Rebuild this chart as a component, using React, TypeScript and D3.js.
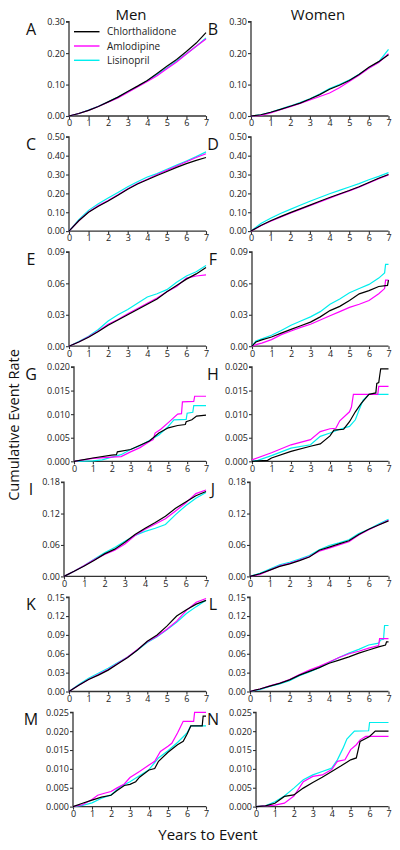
import React, { useEffect, useRef } from "react";
import * as d3 from "d3";

type Pt = [number, number];

// ---- data ----
const years = [0, 0.5, 1, 1.5, 2, 2.5, 3, 3.5, 4, 4.5, 5, 5.5, 6, 6.5, 7];
const seriesNames = ["Chlorthalidone", "Amlodipine", "Lisinopril"];
const seriesColors = ["#000000", "#ff00ff", "#00eeee"];
const panelLetters = ["A", "B", "C", "D", "E", "F", "G", "H", "I", "J", "K", "L", "M", "N"];
const columnTitles = ["Men", "Women"];
const rowYMax = [0.3, 0.5, 0.09, 0.02, 0.18, 0.15, 0.025];
const rowYStep = [0.1, 0.1, 0.03, 0.005, 0.06, 0.03, 0.005];
const rowYFormat = [".2f", ".2f", ".2f", ".3f", ".2f", ".2f", ".3f"];
const xTickValues = [0, 1, 2, 3, 4, 5, 6, 7];

// grid series (values at `years`)
const A_chl = [0, 0.008, 0.018, 0.03, 0.045, 0.06, 0.078, 0.095, 0.113, 0.135, 0.158, 0.18, 0.205, 0.232, 0.265];
const A_aml = [0, 0.008, 0.018, 0.03, 0.044, 0.057, 0.075, 0.092, 0.11, 0.128, 0.15, 0.172, 0.197, 0.222, 0.245];
const A_lis = [0, 0.008, 0.019, 0.031, 0.045, 0.06, 0.077, 0.094, 0.112, 0.132, 0.153, 0.175, 0.198, 0.222, 0.248];
const B_chl = [0, 0.004, 0.012, 0.021, 0.031, 0.041, 0.054, 0.068, 0.085, 0.098, 0.113, 0.132, 0.155, 0.173, 0.195];
const B_aml = [0, 0.002, 0.01, 0.02, 0.03, 0.04, 0.051, 0.062, 0.073, 0.09, 0.11, 0.13, 0.152, 0.17, 0.198];
const B_lis = [0, 0.004, 0.012, 0.022, 0.032, 0.043, 0.055, 0.07, 0.087, 0.1, 0.114, 0.133, 0.153, 0.172, 0.212];
const C_chl = [0, 0.055, 0.1, 0.132, 0.16, 0.19, 0.222, 0.25, 0.272, 0.295, 0.316, 0.338, 0.358, 0.375, 0.39];
const C_aml = [0, 0.055, 0.102, 0.135, 0.162, 0.193, 0.225, 0.252, 0.275, 0.3, 0.322, 0.345, 0.368, 0.39, 0.41];
const C_lis = [0, 0.06, 0.11, 0.145, 0.175, 0.205, 0.235, 0.262, 0.287, 0.305, 0.328, 0.35, 0.372, 0.395, 0.42];
const D_chl = [0, 0.03, 0.055, 0.077, 0.098, 0.118, 0.138, 0.158, 0.178, 0.197, 0.215, 0.235, 0.258, 0.28, 0.3];
const D_aml = [0, 0.028, 0.052, 0.074, 0.095, 0.115, 0.135, 0.155, 0.175, 0.195, 0.213, 0.233, 0.255, 0.278, 0.298];
const D_lis = [0, 0.04, 0.068, 0.093, 0.115, 0.137, 0.158, 0.178, 0.198, 0.216, 0.234, 0.252, 0.272, 0.29, 0.31];
const E_chl = [0, 0.004, 0.0085, 0.014, 0.02, 0.025, 0.03, 0.035, 0.04, 0.045, 0.052, 0.058, 0.064, 0.069, 0.075];
const E_aml = [0, 0.004, 0.009, 0.0145, 0.021, 0.0255, 0.031, 0.036, 0.041, 0.046, 0.052, 0.057, 0.065, 0.067, 0.068];
const E_lis = [0, 0.0045, 0.0095, 0.016, 0.024, 0.03, 0.035, 0.041, 0.047, 0.05, 0.054, 0.061, 0.067, 0.071, 0.077];
const I_chl = [0, 0.01, 0.02, 0.031, 0.043, 0.052, 0.065, 0.08, 0.092, 0.103, 0.115, 0.13, 0.142, 0.154, 0.162];
const I_aml = [0, 0.01, 0.021, 0.032, 0.042, 0.05, 0.062, 0.078, 0.09, 0.1, 0.11, 0.125, 0.14, 0.158, 0.165];
const I_lis = [0, 0.01, 0.021, 0.033, 0.045, 0.055, 0.067, 0.078, 0.086, 0.092, 0.099, 0.118, 0.135, 0.149, 0.16];
const J_chl = [0, 0.005, 0.012, 0.019, 0.024, 0.03, 0.037, 0.05, 0.056, 0.062, 0.068, 0.08, 0.09, 0.098, 0.106];
const J_aml = [0, 0.004, 0.012, 0.02, 0.025, 0.031, 0.038, 0.048, 0.054, 0.06, 0.066, 0.079, 0.089, 0.098, 0.107];
const J_lis = [0, 0.006, 0.014, 0.022, 0.027, 0.033, 0.04, 0.051, 0.059, 0.064, 0.07, 0.082, 0.09, 0.1, 0.109];
const K_chl = [0, 0.01, 0.019, 0.026, 0.034, 0.044, 0.054, 0.066, 0.08, 0.09, 0.104, 0.12, 0.13, 0.139, 0.145];
const K_aml = [0, 0.01, 0.019, 0.027, 0.035, 0.045, 0.055, 0.067, 0.079, 0.088, 0.099, 0.112, 0.129, 0.142, 0.148];
const K_lis = [0, 0.011, 0.021, 0.029, 0.037, 0.046, 0.055, 0.066, 0.078, 0.087, 0.098, 0.11, 0.124, 0.135, 0.145];

// (time, value) series
const F_chl: Pt[] = [[0,0],[0.2,0.004],[0.5,0.006],[1,0.0088],[1.5,0.0125],[2,0.016],[2.5,0.0195],[3,0.023],[3.5,0.028],[4,0.034],[4.5,0.038],[5,0.0436],[5.5,0.05],[6,0.053],[6.5,0.057],[6.95,0.058],[7,0.063]];
const F_aml: Pt[] = [[0,0],[0.3,0.002],[0.5,0.003],[1,0.0063],[1.5,0.011],[2,0.0145],[2.5,0.018],[3,0.021],[3.5,0.025],[4,0.029],[4.5,0.033],[5,0.037],[5.5,0.04],[6,0.0436],[6.5,0.05],[6.8,0.055],[6.85,0.063],[7,0.063]];
const F_lis: Pt[] = [[0,0],[0.2,0.005],[0.5,0.007],[1,0.0104],[1.5,0.015],[2,0.02],[2.5,0.024],[3,0.028],[3.5,0.033],[4,0.04],[4.5,0.045],[5,0.051],[5.5,0.055],[6,0.059],[6.5,0.065],[6.8,0.07],[6.85,0.078],[7,0.078]];
const G_chl: Pt[] = [[0,0],[1,0.0007],[2,0.0013],[2.25,0.0014],[2.3,0.002],[3,0.0025],[4,0.0043],[4.5,0.006],[5,0.0071],[5.5,0.0076],[5.9,0.0078],[5.95,0.0084],[6.25,0.0088],[6.5,0.0096],[7,0.0098]];
const G_aml: Pt[] = [[0,0],[1,0.0006],[2,0.0009],[2.5,0.001],[3,0.002],[3.5,0.0029],[4,0.0042],[4.2,0.0046],[4.3,0.006],[4.6,0.0068],[5,0.0082],[5.5,0.01],[5.7,0.0101],[5.75,0.0126],[6.35,0.0127],[6.4,0.0138],[7,0.0138]];
const G_lis: Pt[] = [[0,0],[1,0.0001],[1.5,0.0003],[2,0.0009],[2.5,0.0014],[3,0.0025],[3.5,0.0033],[4,0.0044],[4.5,0.0056],[5,0.0074],[5.3,0.0088],[5.95,0.0089],[6,0.0102],[6.3,0.0104],[6.35,0.0118],[7,0.0118]];
const H_chl: Pt[] = [[0,0],[0.8,0.0002],[1,0.0007],[2,0.0021],[3,0.0032],[3.5,0.0037],[4,0.0054],[4.2,0.0066],[4.7,0.0068],[5,0.0084],[5.3,0.0105],[5.6,0.0123],[6,0.0142],[6.35,0.0145],[6.4,0.0165],[6.5,0.0167],[6.55,0.0182],[6.6,0.0196],[7,0.0196]];
const H_aml: Pt[] = [[0,0.0003],[1,0.0018],[2,0.0035],[3,0.0046],[3.5,0.0063],[4,0.0069],[4.3,0.007],[4.5,0.0086],[5,0.0105],[5.1,0.0115],[5.2,0.0142],[6.45,0.0142],[6.5,0.0159],[7,0.0159]];
const H_lis: Pt[] = [[0,0],[0.3,0.0002],[1,0.0012],[2,0.0028],[3,0.0035],[3.5,0.0053],[4,0.006],[4.5,0.0068],[5,0.0074],[5.3,0.0088],[5.5,0.011],[5.7,0.013],[6,0.0142],[7,0.0142]];
const L_chl: Pt[] = [[0,0],[0.5,0.004],[1,0.0085],[1.5,0.013],[2,0.0185],[2.5,0.026],[3,0.032],[3.5,0.038],[4,0.045],[4.5,0.05],[5,0.055],[5.5,0.061],[6,0.066],[6.5,0.071],[6.85,0.074],[6.9,0.079],[7,0.079]];
const L_aml: Pt[] = [[0,0],[0.5,0.004],[1,0.009],[1.5,0.0135],[2,0.019],[2.5,0.027],[3,0.034],[3.5,0.04],[4,0.047],[4.5,0.054],[5,0.06],[5.5,0.064],[6,0.069],[6.5,0.073],[6.55,0.084],[7,0.084]];
const L_lis: Pt[] = [[0,0],[0.5,0.003],[1,0.008],[1.5,0.012],[2,0.017],[2.5,0.025],[3,0.031],[3.5,0.038],[4,0.046],[4.5,0.054],[5,0.061],[5.5,0.067],[6,0.074],[6.5,0.077],[6.6,0.082],[6.75,0.083],[6.8,0.105],[7,0.105]];
const M_chl: Pt[] = [[0,0],[0.5,0.0009],[1,0.0017],[1.5,0.0025],[2,0.003],[2.3,0.0042],[2.7,0.0056],[3,0.0059],[3.3,0.0066],[3.5,0.0078],[4,0.0097],[4.3,0.0101],[4.5,0.012],[5,0.0144],[5.5,0.0164],[5.8,0.0173],[6,0.0192],[6.2,0.0214],[6.8,0.0214],[6.85,0.024],[7,0.024]];
const M_aml: Pt[] = [[0,0],[0.5,0.0005],[1,0.0019],[1.3,0.003],[1.7,0.0036],[2,0.004],[2.3,0.0049],[2.7,0.006],[3,0.0077],[3.5,0.0093],[4,0.011],[4.3,0.012],[4.6,0.0146],[5,0.016],[5.2,0.0168],[5.5,0.0195],[5.8,0.0226],[6.35,0.0226],[6.4,0.025],[7,0.025]];
const M_lis: Pt[] = [[0,0],[0.5,0.0003],[1,0.001],[1.5,0.0022],[2,0.0031],[2.5,0.0053],[3,0.0066],[3.5,0.0082],[4,0.0098],[4.5,0.0129],[5,0.0148],[5.5,0.017],[6,0.0195],[6.2,0.0214],[7,0.0214]];
const N_chl: Pt[] = [[0,0],[0.5,0.0002],[1,0.0009],[1.5,0.0027],[2,0.0031],[2.5,0.0049],[3,0.0064],[3.5,0.0078],[4,0.0093],[4.5,0.0108],[5,0.0124],[5.3,0.0129],[5.5,0.0173],[6,0.0186],[6.3,0.02],[7,0.02]];
const N_aml: Pt[] = [[0,0],[1,0.0004],[1.5,0.0009],[2,0.0028],[2.5,0.0066],[3,0.008],[3.5,0.0084],[4,0.0098],[4.3,0.012],[4.7,0.0124],[5,0.0151],[5.3,0.0164],[5.5,0.0177],[5.8,0.0186],[7,0.0186]];
const N_lis: Pt[] = [[0,0],[0.5,0.0002],[1,0.0013],[1.5,0.0028],[2,0.0049],[2.5,0.0071],[3,0.0084],[3.5,0.0093],[4,0.0102],[4.3,0.0124],[4.6,0.0155],[4.8,0.0179],[5.2,0.02],[5.95,0.0201],[6,0.0223],[7,0.0223]];

const onGrid = (vals: number[]): Pt[] => vals.map((v, i) => [years[i], v]);

const panelSeries: Pt[][][] = [
  [onGrid(A_chl), onGrid(A_aml), onGrid(A_lis)],
  [onGrid(B_chl), onGrid(B_aml), onGrid(B_lis)],
  [onGrid(C_chl), onGrid(C_aml), onGrid(C_lis)],
  [onGrid(D_chl), onGrid(D_aml), onGrid(D_lis)],
  [onGrid(E_chl), onGrid(E_aml), onGrid(E_lis)],
  [F_chl, F_aml, F_lis],
  [G_chl, G_aml, G_lis],
  [H_chl, H_aml, H_lis],
  [onGrid(I_chl), onGrid(I_aml), onGrid(I_lis)],
  [onGrid(J_chl), onGrid(J_aml), onGrid(J_lis)],
  [onGrid(K_chl), onGrid(K_aml), onGrid(K_lis)],
  [L_chl, L_aml, L_lis],
  [M_chl, M_aml, M_lis],
  [N_chl, N_aml, N_lis],
];

// ---- layout ----
const W = 400;
const H = 850;
const ROW_TOP = 21.7;
const ROW_H = 94.3;
const ROW_STEP = 115.1;
const colLeft0 = [69, 69, 69, 74, 64, 69, 73];
const colRight0 = [251, 251, 252, 252, 250, 250, 256];
const colX1 = [206, 388.5];
const FONT = "'Open Sans', 'Noto Sans', sans-serif";
const AXIS_COLOR = "#333";

export default function App() {
  const ref = useRef<SVGSVGElement>(null);

  useEffect(() => {
    const svg = d3.select(ref.current);
    svg.selectAll("*").remove();

    panelLetters.forEach((letter, i) => {
      const row = Math.floor(i / 2);
      const col = i % 2;
      const x0 = col === 0 ? colLeft0[row] : colRight0[row];
      const x1 = colX1[col];
      const yTop = ROW_TOP + row * ROW_STEP;
      const yBot = yTop + ROW_H;
      const x = d3.scaleLinear().domain([0, 7]).range([x0, x1]);
      const yMax = rowYMax[row];
      const y = d3.scaleLinear().domain([0, yMax]).range([yBot, yTop]);
      const yTicks = d3.range(0, yMax + rowYStep[row] / 2, rowYStep[row]);

      const g = svg.append("g");

      const xAxis = g
        .append("g")
        .attr("transform", `translate(0,${yBot})`)
        .call(d3.axisBottom(x).tickValues(xTickValues).tickSize(3).tickPadding(1).tickFormat(d3.format("d")));
      const yAxis = g
        .append("g")
        .attr("transform", `translate(${x0},0)`)
        .call(
          d3.axisLeft(y).tickValues(yTicks).tickSize(3).tickPadding(1).tickFormat(d3.format(rowYFormat[row]))
        );
      [xAxis, yAxis].forEach((a) => {
        a.select(".domain").attr("stroke", AXIS_COLOR).attr("stroke-width", 1.3);
        a.selectAll(".tick line").attr("stroke", AXIS_COLOR).attr("stroke-width", 1.1);
        a.selectAll(".tick text")
          .attr("fill", "#222")
          .style("font-family", FONT)
          .style("font-size", "9px");
      });
      xAxis.select(".domain").attr("d", `M${x0},0H${x1}`);
      yAxis.select(".domain").attr("d", `M-3,${yTop}H0V${yBot}`);

      const line = d3
        .line<Pt>()
        .x((d) => x(d[0]))
        .y((d) => y(d[1]));

      const order = [2, 1, 0];
      order.forEach((s) => {
        g.append("path")
          .datum(panelSeries[i][s])
          .attr("d", line)
          .attr("fill", "none")
          .attr("stroke", seriesColors[s])
          .attr("stroke-width", 1.2)
          .attr("stroke-linejoin", "miter");
      });

      g.append("text")
        .attr("x", col === 0 ? 31 : 213)
        .attr("y", yTop + 13)
        .attr("text-anchor", "middle")
        .style("font-family", FONT)
        .style("font-size", "16px")
        .attr("fill", "#111")
        .text(letter);

      if (i === 0) {
        seriesNames.forEach((name, s) => {
          const ly = yTop + 10 + s * 14.3;
          g.append("line")
            .attr("x1", 74)
            .attr("x2", 99.5)
            .attr("y1", ly)
            .attr("y2", ly)
            .attr("stroke", seriesColors[s])
            .attr("stroke-width", 1.4);
          g.append("text")
            .attr("x", 107)
            .attr("y", ly + 3.5)
            .style("font-family", FONT)
            .style("font-size", "10px")
            .attr("fill", "#222")
            .text(name);
        });
      }
    });

    columnTitles.forEach((t, c) => {
      svg
        .append("text")
        .attr("x", c === 0 ? 131 : 318)
        .attr("y", 19.5)
        .attr("text-anchor", "middle")
        .style("font-family", FONT)
        .style("font-size", "15px")
        .attr("fill", "#111")
        .text(t);
    });

    svg
      .append("text")
      .attr("transform", "translate(19,425) rotate(-90)")
      .attr("text-anchor", "middle")
      .style("font-family", FONT)
      .style("font-size", "14.5px")
      .attr("fill", "#111")
      .text("Cumulative Event Rate");

    svg
      .append("text")
      .attr("x", 208)
      .attr("y", 840)
      .attr("text-anchor", "middle")
      .style("font-family", FONT)
      .style("font-size", "15px")
      .attr("fill", "#111")
      .text("Years to Event");
  }, []);

  return (
    <svg
      ref={ref}
      width={W}
      height={H}
      style={{ position: "absolute", left: 0, top: 0, background: "#fff" }}
    />
  );
}
